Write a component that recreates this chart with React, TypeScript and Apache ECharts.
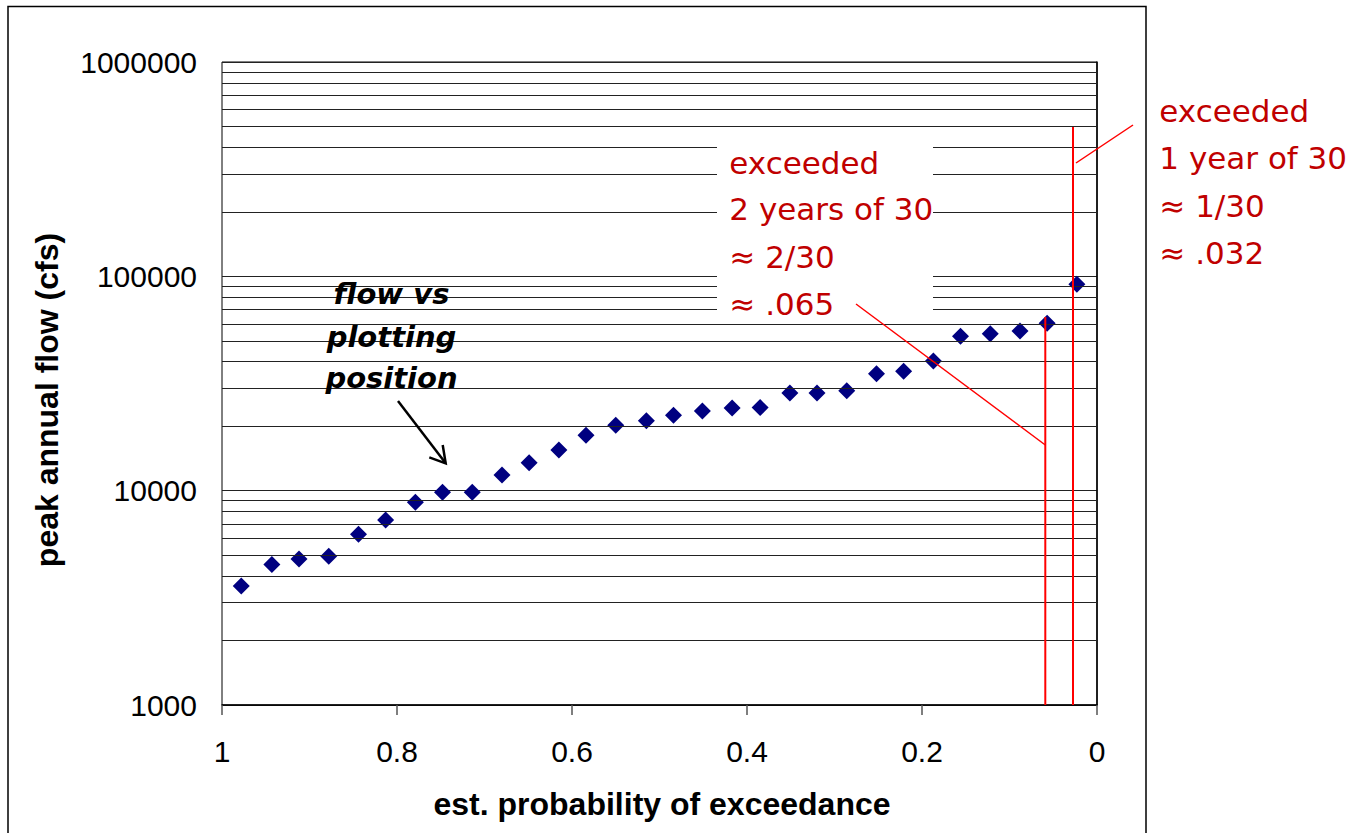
import React, { useEffect, useRef } from "react";
import * as echarts from "echarts";

// est. probability of exceedance (plotting position) for each of the 30 years
const probabilities = [
  0.978, 0.943, 0.912, 0.878, 0.844, 0.813, 0.779, 0.748, 0.714, 0.68,
  0.649, 0.615, 0.584, 0.55, 0.515, 0.484, 0.451, 0.417, 0.385, 0.351,
  0.32, 0.286, 0.252, 0.221, 0.187, 0.156, 0.122, 0.088, 0.057, 0.023,
];
// peak annual flow (cfs)
const peakFlows = [
  3590, 4530, 4800, 4940, 6260, 7300, 8830, 9830, 9830, 11840,
  13500, 15480, 18130, 20180, 21210, 22470, 23530, 24300, 24430, 28550,
  28550, 29270, 35140, 36060, 40270, 52530, 54010, 55590, 60400, 91800,
];
// minor horizontal gridlines of the log axis
const minorGridValues = [
  2000, 3000, 4000, 5000, 6000, 7000, 8000, 9000,
  20000, 30000, 40000, 50000, 60000, 70000, 80000, 90000,
  200000, 300000, 400000, 500000, 600000, 700000, 800000, 900000,
];
const xTitle = "est. probability of exceedance";
const yTitle = "peak annual flow (cfs)";
const noteLeft = ["exceeded", "2 years of 30", "\u2248 2/30", "\u2248 .065"];
const noteRight = ["exceeded", "1 year of 30", "\u2248 1/30", "\u2248 .032"];
const noteFlow = ["flow vs", "plotting", "position"];

const RED_TEXT = "#C00000";
const RED_LINE = "#FF0000";
const ANNOT_FONT = '"DejaVu Sans"';

export default function App() {
  const ref = useRef<HTMLDivElement>(null);

  useEffect(() => {
    if (!ref.current) return;
    const chart = echarts.init(ref.current, null, { renderer: "svg" });

    const leftYs = [162.6, 209.3, 257.3, 304.3];
    const rightYs = [111, 157.6, 206, 252.6];
    const flowYs = [294, 336.7, 378];

    const graphics: any[] = [
      // outer frame
      {
        type: "rect",
        z: 1,
        shape: { x: 8, y: 6.5, width: 1138, height: 900 },
        style: { fill: "none", stroke: "#000", lineWidth: 1.5 },
        silent: true,
      },
      // white background box for the left note
      {
        type: "rect",
        z: 20,
        shape: { x: 717, y: 134, width: 216, height: 182 },
        style: { fill: "#fff", stroke: "none" },
        silent: true,
      },
      // axis titles
      {
        type: "text",
        z: 21,
        x: 662,
        y: 804,
        style: {
          text: xTitle,
          fill: "#000",
          fontFamily: '"Liberation Sans", Arial',
          fontWeight: "bold",
          fontSize: 32,
          align: "center",
          verticalAlign: "middle",
        },
      },
      {
        type: "text",
        z: 21,
        x: 47,
        y: 400,
        rotation: Math.PI / 2,
        style: {
          text: yTitle,
          fill: "#000",
          fontFamily: '"Liberation Sans", Arial',
          fontWeight: "bold",
          fontSize: 32,
          align: "center",
          verticalAlign: "middle",
        },
      },
      // red annotation lines
      {
        type: "line",
        z: 30,
        shape: { x1: 1045.3, y1: 317, x2: 1045.3, y2: 705 },
        style: { stroke: RED_LINE, lineWidth: 2 },
      },
      {
        type: "line",
        z: 30,
        shape: { x1: 856, y1: 304, x2: 1045.3, y2: 445 },
        style: { stroke: RED_LINE, lineWidth: 1.5 },
      },
      {
        type: "line",
        z: 30,
        shape: { x1: 1073, y1: 127, x2: 1073, y2: 705 },
        style: { stroke: RED_LINE, lineWidth: 2 },
      },
      {
        type: "line",
        z: 30,
        shape: { x1: 1133, y1: 125, x2: 1076, y2: 163 },
        style: { stroke: RED_LINE, lineWidth: 1.5 },
      },
      // black arrow
      {
        type: "line",
        z: 30,
        shape: { x1: 398, y1: 401, x2: 445.5, y2: 463 },
        style: { stroke: "#000", lineWidth: 2.5 },
      },
      {
        type: "polyline",
        z: 30,
        shape: { points: [[429.3, 457.3], [445.7, 463.3], [442.7, 445]] },
        style: { stroke: "#000", lineWidth: 2.5, fill: "none" },
      },
    ];

    noteLeft.forEach((t, i) =>
      graphics.push({
        type: "text",
        z: 25,
        x: 729.3,
        y: leftYs[i],
        style: {
          text: t,
          fill: RED_TEXT,
          fontFamily: ANNOT_FONT,
          fontSize: 31,
          align: "left",
          verticalAlign: "middle",
        },
      })
    );
    noteRight.forEach((t, i) =>
      graphics.push({
        type: "text",
        z: 25,
        x: 1159.3,
        y: rightYs[i],
        style: {
          text: t,
          fill: RED_TEXT,
          fontFamily: ANNOT_FONT,
          fontSize: 31,
          align: "left",
          verticalAlign: "middle",
        },
      })
    );
    noteFlow.forEach((t, i) =>
      graphics.push({
        type: "text",
        z: 25,
        x: 391.5,
        y: flowYs[i],
        style: {
          text: t,
          fill: "#000",
          fontFamily: ANNOT_FONT,
          fontWeight: "bold",
          fontStyle: "italic",
          fontSize: 29,
          align: "center",
          verticalAlign: "middle",
        },
      })
    );

    chart.setOption({
      animation: false,
      backgroundColor: "#fff",
      grid: {
        left: 222,
        top: 62,
        width: 875,
        height: 643,
        show: true,
        borderColor: "#000",
        borderWidth: 1,
        backgroundColor: "transparent",
      },
      xAxis: {
        type: "value",
        min: 0,
        max: 1,
        interval: 0.2,
        inverse: true,
        splitLine: { show: false },
        axisLine: { show: true, lineStyle: { color: "#000", width: 1.5 } },
        axisTick: { show: true, length: 10, lineStyle: { color: "#555", width: 1.5 } },
        axisLabel: {
          margin: 31,
          color: "#000",
          fontSize: 30,
          fontFamily: '"Liberation Sans", Arial',
          formatter: (v: number) => String(Math.round(v * 10) / 10),
        },
      },
      yAxis: {
        type: "log",
        logBase: 10,
        min: 1000,
        max: 1000000,
        axisLine: { show: true, lineStyle: { color: "#000", width: 1.5 } },
        axisTick: { show: false },
        splitLine: { show: true, lineStyle: { color: "#222", width: 1 } },
        axisLabel: {
          margin: 25,
          color: "#000",
          fontSize: 30,
          fontFamily: '"Liberation Sans", Arial',
          formatter: (v: number) => String(Math.round(v)),
        },
      },
      series: [
        {
          type: "scatter",
          symbol: "diamond",
          symbolSize: 17,
          itemStyle: { color: "#000080", opacity: 1 },
          data: probabilities.map((p, i) => [p, peakFlows[i]]),
          z: 3,
          markLine: {
            silent: true,
            symbol: ["none", "none"],
            label: { show: false },
            lineStyle: { color: "#222", width: 1, type: "solid", opacity: 1 },
            emphasis: { disabled: true },
            data: minorGridValues.map((v) => ({ yAxis: v })),
          },
        },
      ],
      graphic: { elements: graphics },
    });

    return () => chart.dispose();
  }, []);

  return (
    <div
      ref={ref}
      style={{ position: "fixed", left: 0, top: 0, width: 1354, height: 833 }}
    />
  );
}
